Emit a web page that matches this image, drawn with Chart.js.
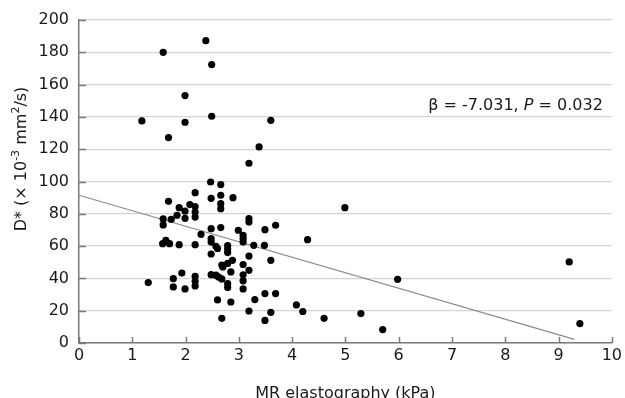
<!DOCTYPE html>
<html>
<head>
<meta charset="utf-8">
<script src="https://cdn.jsdelivr.net/npm/chart.js@4/dist/chart.umd.min.js"></script>
<style>
  html, body { margin: 0; padding: 0; background: #fff; }
  #wrap { width: 625px; height: 398px; position: relative; }
</style>
</head>
<body>
<div id="wrap"><canvas id="c" width="625" height="398"></canvas></div>
<script>
// ---- data ----
const elastography = [
  2.38, 1.58, 2.49, 1.99, 1.18, 1.99, 2.49, 3.60, 1.68, 3.38, 3.19,
  2.47, 2.66, 2.18, 2.48, 2.66, 2.89, 1.68, 2.66, 2.66,
  1.88, 2.08, 2.18, 1.99, 2.18, 2.18, 1.84, 1.99, 1.73, 1.58, 1.58,
  3.19, 3.19, 3.69, 3.49, 2.48, 2.66, 2.99, 2.29, 3.08, 3.08, 3.08, 2.48, 2.48,
  1.63, 1.57, 1.70, 1.88, 2.18, 2.57, 2.60, 2.79, 2.79, 2.79, 3.28, 3.48, 4.29,
  2.48, 3.19, 2.88, 3.60, 2.79, 2.68, 2.70, 3.08, 3.19, 2.85, 1.93,
  2.48, 2.57, 2.62, 2.68, 3.08, 3.08, 3.08, 2.18, 2.18, 2.18, 1.77, 1.30, 1.77, 1.99,
  2.79, 2.79, 3.49, 3.69, 2.60, 2.85, 3.30, 4.08, 4.20, 3.19, 3.60, 3.49, 2.68,
  4.60, 5.29, 5.70, 5.98, 4.99, 9.20, 9.40
];
const dStar = [
  187.2, 180.0, 172.4, 153.2, 137.5, 136.7, 140.4, 137.9, 127.2, 121.4, 111.3,
  99.7, 98.1, 93.1, 89.6, 91.5, 90.0, 87.7, 86.3, 83.2,
  83.8, 85.7, 84.5, 81.6, 81.1, 78.0, 79.1, 77.2, 76.6, 76.8, 73.1,
  77.0, 74.9, 72.9, 70.2, 70.8, 71.5, 69.8, 67.3, 66.7, 64.6, 62.5, 64.6, 62.5,
  63.6, 61.5, 61.5, 60.9, 60.9, 59.9, 58.5, 60.3, 58.2, 56.0, 60.5, 60.5, 64.0,
  55.1, 53.8, 51.2, 51.2, 49.3, 48.3, 47.1, 48.6, 45.0, 44.0, 43.3,
  42.3, 42.0, 40.8, 39.7, 42.2, 38.5, 33.5, 41.3, 38.2, 35.3, 39.8, 37.4, 34.7, 33.5,
  36.8, 34.3, 30.6, 30.6, 26.7, 25.4, 26.9, 23.6, 19.5, 19.8, 19.0, 14.0, 15.3,
  15.3, 18.2, 8.3, 39.4, 83.8, 50.2, 12.0
];
const fitX = [0, 9.3];
const fitY = [91.5, 2.2];
const xTicks = [0, 1, 2, 3, 4, 5, 6, 7, 8, 9, 10];
const yTicks = [0, 20, 40, 60, 80, 100, 120, 140, 160, 180, 200];
const annotationMain = 'β = -7.031, ';
const annotationItalic = 'P';
const annotationTail = ' = 0.032';
const xTitle = 'MR elastography (kPa)';

const FONT = '"DejaVu Sans", Verdana, sans-serif';
const AXIS_COLOR = '#7a7a7a';

const points = elastography.map((x, i) => ({ x: x, y: dStar[i] }));
const fitLine = fitX.map((x, i) => ({ x: x, y: fitY[i] }));

const decorPlugin = {
  id: 'decor',
  beforeDatasetsDraw(chart) {
    const ctx = chart.ctx;
    const xs = chart.scales.x, ys = chart.scales.y;
    const ca = chart.chartArea;
    ctx.save();
    ctx.strokeStyle = AXIS_COLOR;
    ctx.lineWidth = 1.5;
    ctx.beginPath();
    xTicks.forEach(v => {
      const px = Math.round(xs.getPixelForValue(v)) + 0.5;
      ctx.moveTo(px, ca.bottom);
      ctx.lineTo(px, ca.bottom - 6);
    });
    yTicks.forEach(v => {
      const py = Math.round(ys.getPixelForValue(v)) + 0.5;
      ctx.moveTo(ca.left, py);
      ctx.lineTo(ca.left + 7, py);
    });
    ctx.stroke();
    ctx.restore();
  },
  afterDraw(chart) {
    const ctx = chart.ctx;
    const ca = chart.chartArea;
    ctx.save();
    ctx.fillStyle = '#1a1a1a';
    ctx.textBaseline = 'alphabetic';
    // annotation
    const nf = '16px ' + FONT, itf = 'italic 16px ' + FONT;
    ctx.font = nf; const w1 = ctx.measureText(annotationMain).width; const w3 = ctx.measureText(annotationTail).width;
    ctx.font = itf; const w2 = ctx.measureText(annotationItalic).width;
    let ax = ca.right - 9 - (w1 + w2 + w3);
    const ay = 110;
    ctx.textAlign = 'left';
    ctx.font = nf; ctx.fillText(annotationMain, ax, ay); ax += w1;
    ctx.font = itf; ctx.fillText(annotationItalic, ax, ay); ax += w2;
    ctx.font = nf; ctx.fillText(annotationTail, ax, ay);

    // x title
    ctx.font = nf;
    ctx.textAlign = 'center';
    ctx.fillText(xTitle, (ca.left + ca.right) / 2, 397.5);

    // y title with superscripts (rotated)
    const parts = [
      { t: 'D* (× 10', sup: false },
      { t: '-3', sup: true },
      { t: ' mm', sup: false },
      { t: '2', sup: true },
      { t: '/s)', sup: false }
    ];
    const supFont = '11px ' + FONT;
    let total = 0;
    parts.forEach(p => { ctx.font = p.sup ? supFont : nf; p.w = ctx.measureText(p.t).width; total += p.w; });
    ctx.translate(25.5, 159);
    ctx.rotate(-Math.PI / 2);
    ctx.textAlign = 'left';
    let tx = -total / 2;
    parts.forEach(p => {
      ctx.font = p.sup ? supFont : nf;
      ctx.fillText(p.t, tx, p.sup ? -7 : 0);
      tx += p.w;
    });
    ctx.restore();
  }
};

new Chart(document.getElementById('c'), {
  type: 'scatter',
  data: {
    datasets: [
      {
        label: 'D*',
        data: points,
        backgroundColor: '#000',
        borderWidth: 0,
        pointRadius: 3.6,
        pointHoverRadius: 3.6,
        order: 1
      },
      {
        type: 'line',
        label: 'fit',
        data: fitLine,
        borderColor: '#8a8a8a',
        borderWidth: 1.2,
        pointRadius: 0,
        fill: false,
        order: 2
      }
    ]
  },
  options: {
    responsive: false,
    animation: false,
    devicePixelRatio: 1,
    layout: { padding: { left: 0, right: 11, top: 20, bottom: 0 } },
    plugins: { legend: { display: false }, tooltip: { enabled: false } },
    scales: {
      x: {
        type: 'linear',
        min: 0, max: 10,
        afterFit(s) { s.height = 55; },
        afterBuildTicks(s) { s.ticks = xTicks.map(v => ({ value: v })); },
        ticks: { stepSize: 1, padding: 3, color: '#1a1a1a', font: { family: FONT, size: 16 } },
        grid: { display: false, drawTicks: false },
        border: { display: true, color: AXIS_COLOR, width: 1.5 }
      },
      y: {
        type: 'linear',
        min: 0, max: 200,
        afterFit(s) { s.width = 79; },
        afterBuildTicks(s) { s.ticks = yTicks.map(v => ({ value: v })); },
        ticks: { stepSize: 20, padding: 10, color: '#1a1a1a', font: { family: FONT, size: 16 } },
        grid: { color: '#d4d4d4', lineWidth: 1.3, drawTicks: false },
        border: { display: true, color: AXIS_COLOR, width: 1.5 }
      }
    }
  },
  plugins: [decorPlugin]
});
</script>
</body>
</html>
